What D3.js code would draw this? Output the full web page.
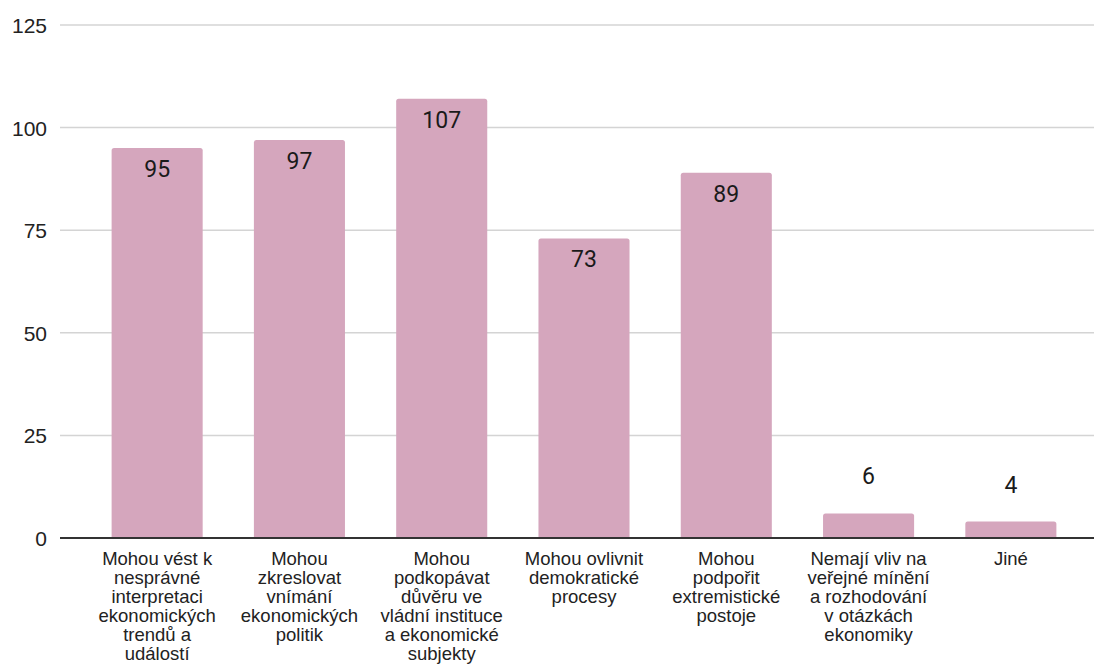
<!DOCTYPE html>
<html>
<head>
<meta charset="utf-8">
<script src="https://cdn.jsdelivr.net/npm/d3@7"></script>
<style>
  html, body { margin: 0; padding: 0; background: #fff; }
  svg { display: block; }
</style>
</head>
<body>
<svg id="chart" width="1094" height="664"></svg>
<script>
const categories = [
  "Mohou vést k\nnesprávné\ninterpretaci\nekonomických\ntrendů a\nudálostí",
  "Mohou\nzkreslovat\nvnímání\nekonomických\npolitik",
  "Mohou\npodkopávat\ndůvěru ve\nvládní instituce\na ekonomické\nsubjekty",
  "Mohou ovlivnit\ndemokratické\nprocesy",
  "Mohou\npodpořit\nextremistické\npostoje",
  "Nemají vliv na\nveřejné mínění\na rozhodování\nv otázkách\nekonomiky",
  "Jiné"
];
const values = [95, 97, 107, 73, 89, 6, 4];
const yTicks = [0, 25, 50, 75, 100, 125];

const svg = d3.select("#chart");
const x = d3.scaleBand().domain(categories).range([86, 1082]).paddingInner(0.36).paddingOuter(0.18);
const y = d3.scaleLinear().domain([0, 125]).range([538, 25]);

// gridlines
svg.append("g").selectAll("line").data(yTicks.filter(t => t !== 0)).join("line")
  .attr("x1", 60).attr("x2", 1094)
  .attr("y1", d => y(d)).attr("y2", d => y(d))
  .attr("stroke", "#d4d4d4").attr("stroke-width", 1.5);

// y tick labels
svg.append("g").selectAll("text").data(yTicks).join("text")
  .attr("x", 47).attr("y", d => y(d) + 8)
  .attr("text-anchor", "end")
  .attr("font-family", "'Liberation Sans', Arial, sans-serif")
  .attr("font-size", 21)
  .attr("fill", "#222")
  .text(d => d);

// bars with rounded top corners
const r = 2.5;
svg.append("g").selectAll("path").data(values).join("path")
  .attr("d", (d, i) => {
    const x0 = x(categories[i]), w = x.bandwidth(), y0 = y(d), yb = y(0);
    return `M${x0},${yb}V${y0 + r}Q${x0},${y0} ${x0 + r},${y0}H${x0 + w - r}Q${x0 + w},${y0} ${x0 + w},${y0 + r}V${yb}Z`;
  })
  .attr("fill", "#d5a6bd");

// zero axis line
svg.append("line")
  .attr("x1", 60).attr("x2", 1094)
  .attr("y1", y(0)).attr("y2", y(0))
  .attr("stroke", "#333").attr("stroke-width", 2);

// value labels
svg.append("g").selectAll("text").data(values).join("text")
  .attr("x", (d, i) => x(categories[i]) + x.bandwidth() / 2)
  .attr("y", d => d > 20 ? y(d) + 29 : y(d) - 29)
  .attr("text-anchor", "middle")
  .attr("font-family", "Roboto, sans-serif")
  .attr("font-size", 23)
  .attr("fill", "#1a1a1a")
  .text(d => d);

// category labels
const cat = svg.append("g").selectAll("text").data(categories).join("text")
  .attr("x", d => x(d) + x.bandwidth() / 2)
  .attr("y", 565)
  .attr("text-anchor", "middle")
  .attr("font-family", "'Liberation Sans', Arial, sans-serif")
  .attr("font-size", 18.5)
  .attr("fill", "#222");
cat.each(function(d) {
  const t = d3.select(this);
  const cx = x(d) + x.bandwidth() / 2;
  d.split("\n").forEach((line, j) => {
    t.append("tspan").attr("x", cx).attr("dy", j === 0 ? 0 : 19).text(line);
  });
});
</script>
</body>
</html>
